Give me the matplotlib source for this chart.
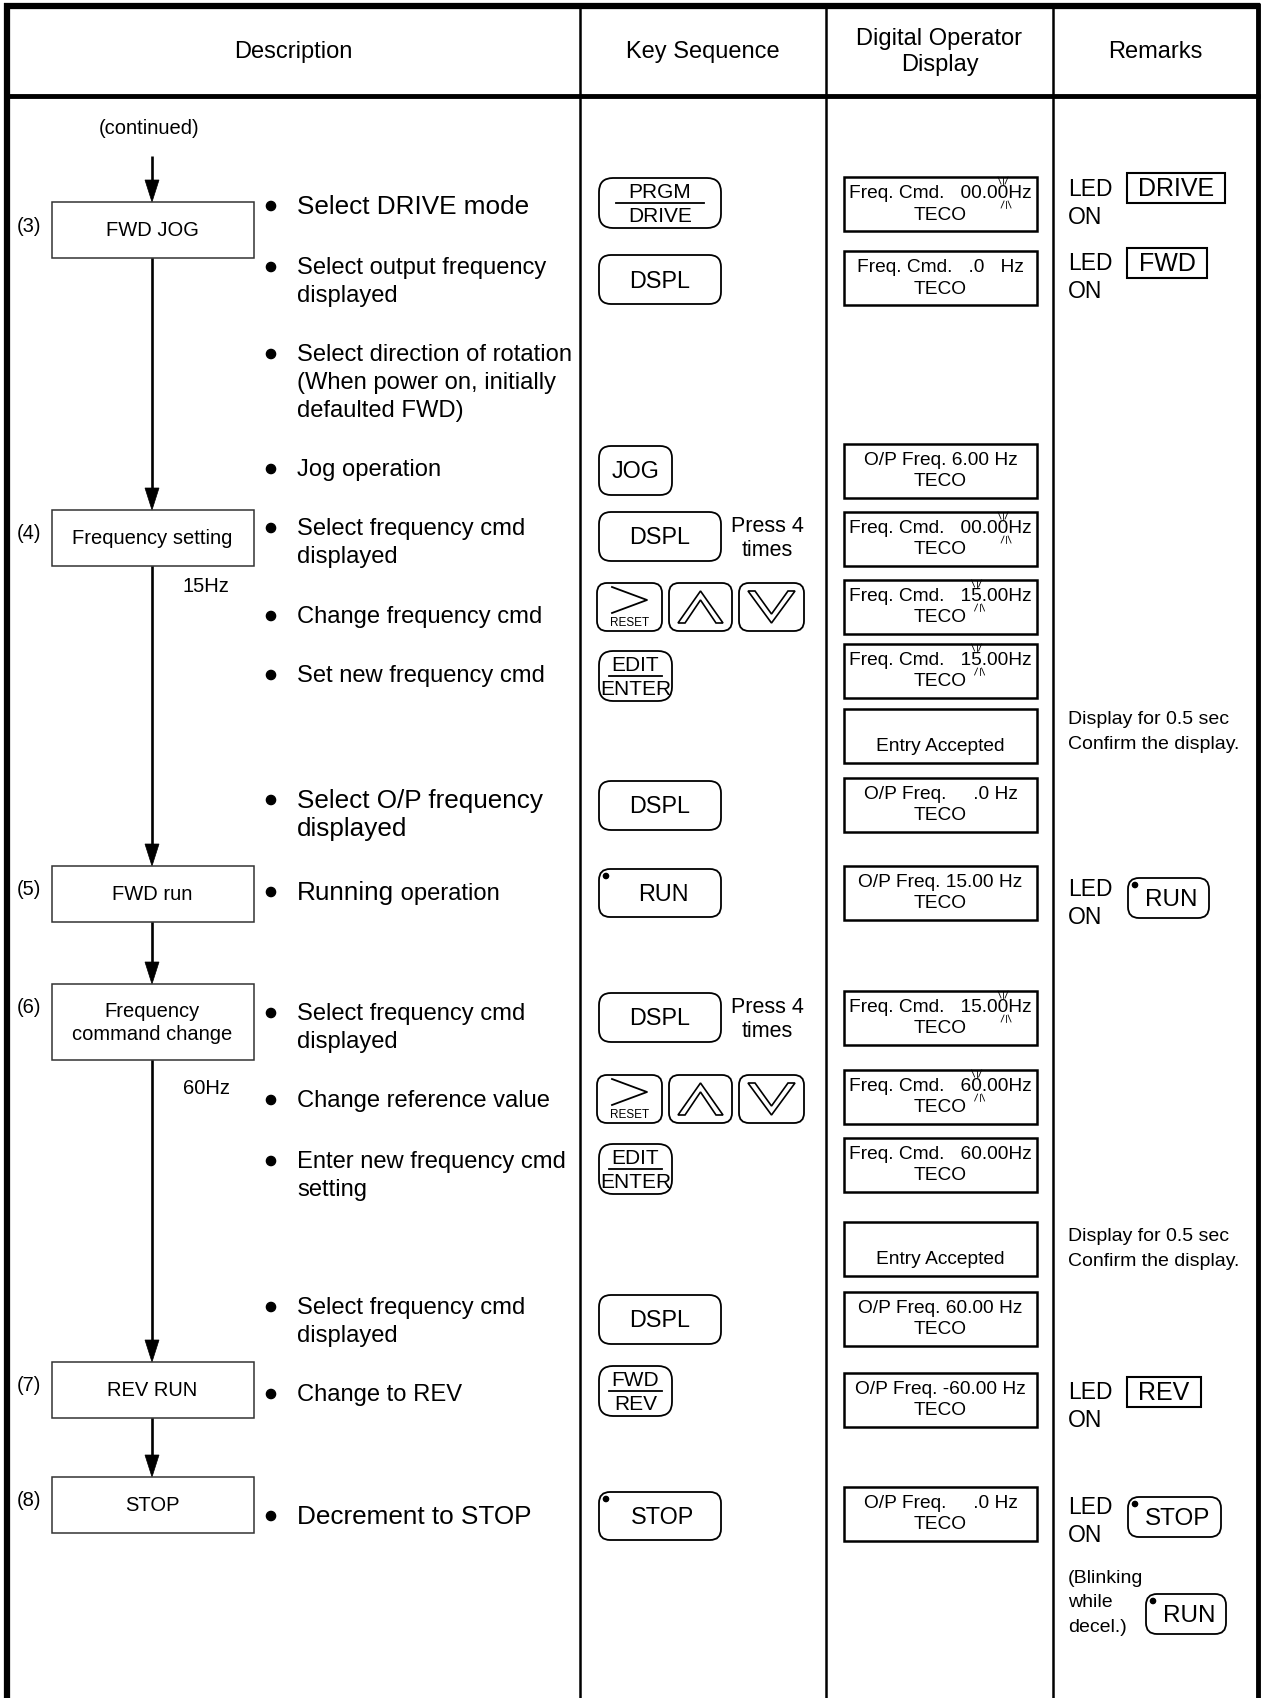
import matplotlib
matplotlib.use("Agg")
import matplotlib.pyplot as plt
from matplotlib.patches import FancyBboxPatch, Rectangle, Polygon, Circle

plt.rcParams['font.family'] = ['Liberation Sans', 'DejaVu Sans']

# ---- table header ----
headers = ['Description', 'Key Sequence', 'Digital Operator\nDisplay', 'Remarks']
col_edges = [7, 580, 826, 1053, 1258]

# ---- flow chart (description column) ----
step_nums = ['(3)', '(4)', '(5)', '(6)', '(7)', '(8)']
step_labels = ['FWD JOG', 'Frequency setting', 'FWD run',
               'Frequency\ncommand change', 'REV RUN', 'STOP']
step_top = [203, 511, 867, 985, 1363, 1478]
step_h = [56, 56, 56, 76, 56, 56]
freq_notes = ['15Hz', '60Hz']
freq_note_y = [587, 1089]

bullets = [
    ['Select DRIVE mode'],
    ['Select output frequency', 'displayed'],
    ['Select direction of rotation', '(When power on, initially', 'defaulted FWD)'],
    ['Jog operation'],
    ['Select frequency cmd', 'displayed'],
    ['Change frequency cmd'],
    ['Set new frequency cmd'],
    ['Select O/P frequency', 'displayed'],
    ['Running| operation'],
    ['Select frequency cmd', 'displayed'],
    ['Change reference value'],
    ['Enter new frequency cmd', 'setting'],
    ['Select frequency cmd', 'displayed'],
    ['Change to REV'],
    ['Decrement to STOP'],
]
bullet_y = [207, 268, 355, 470, 529, 617, 676, 801, 893, 1014, 1101, 1162, 1308, 1395, 1517]
bullet_big = [True, False, False, False, False, False, False, True, True,
              False, False, False, False, False, True]

# ---- key sequence column ----
keys = ['PRGM/DRIVE', 'DSPL', 'JOG', 'DSPL', 'ARROWS', 'EDIT/ENTER', 'DSPL',
        'RUN', 'DSPL', 'ARROWS', 'EDIT/ENTER', 'DSPL', 'FWD/REV', 'STOP']
key_top = [179, 256, 447, 513, 584, 652, 782, 870, 994, 1076, 1145, 1296, 1367, 1493]
press_note_key = [3, 8]

# ---- digital operator display column ----
disp_line1 = ['Freq. Cmd.   00.00Hz', 'Freq. Cmd.   .0   Hz', 'O/P Freq. 6.00 Hz',
              'Freq. Cmd.   00.00Hz', 'Freq. Cmd.   15.00Hz', 'Freq. Cmd.   15.00Hz',
              '', 'O/P Freq.     .0 Hz', 'O/P Freq. 15.00 Hz',
              'Freq. Cmd.   15.00Hz', 'Freq. Cmd.   60.00Hz', 'Freq. Cmd.   60.00Hz',
              '', 'O/P Freq. 60.00 Hz', 'O/P Freq. -60.00 Hz', 'O/P Freq.     .0 Hz']
disp_line2 = ['TECO', 'TECO', 'TECO', 'TECO', 'TECO', 'TECO', 'Entry Accepted', 'TECO',
              'TECO', 'TECO', 'TECO', 'TECO', 'Entry Accepted', 'TECO', 'TECO', 'TECO']
disp_blink = [17, None, None, 17, 14, 14, None, None, None, 17, 14, None, None, None, None, None]
disp_top = [178, 252, 445, 513, 581, 645, 710, 779, 867, 992, 1071, 1139, 1223, 1293, 1374, 1488]

# ---- remarks column ----
led_labels = ['DRIVE', 'FWD', 'RUN', 'REV', 'STOP']
led_kind = ['box', 'box', 'key', 'box', 'key']
led_text_y = [190, 263, 890, 1393, 1508]
led_box_top = [174, 249, 879, 1378, 1498]
led_box_w = [98, 80, 81, 74, 93]
confirm_y = [720, 1237]

W, H = 1265, 1699
fig = plt.figure(figsize=(W / 100, H / 100), dpi=100)
ax = fig.add_axes([0, 0, 1, 1])
ax.set_xlim(0, W)
ax.set_ylim(H, 0)
ax.axis('off')
renderer = fig.canvas.get_renderer()

FS_BODY = 17.1
FS_BIG = 18.8
FS_DISP = 13.8


def txt(x, y, s, size, ha='center', **kw):
    return ax.text(x, y, s, fontsize=size, ha=ha, va='center', **kw)


def rounded(x0, y0, w, h, r, lw=1.3):
    ax.add_patch(FancyBboxPatch((x0, y0), w, h, boxstyle=f"round,pad=0,rounding_size={r}",
                                lw=lw, ec='black', fc='white'))


def arrow(x, y0, y1):
    ax.plot([x, x], [y0, y1 - 20], color='black', lw=1.9, solid_capstyle='butt')
    ax.add_patch(Polygon([(x - 7, y1 - 22), (x + 7, y1 - 22), (x, y1)], closed=True,
                         fc='black', ec='black', lw=0.5))


def dot_key(x0, y0, w, h, label, size):
    rounded(x0, y0, w, h, 11)
    ax.add_patch(Circle((x0 + 7, y0 + 7), 2.6, color='black'))
    txt(x0 + w / 2 + 3, y0 + h / 2 + 1, label, size)


# table frame
ax.plot([col_edges[0], col_edges[0]], [4, H], color='black', lw=4.5, solid_capstyle='butt')
ax.plot([col_edges[-1], col_edges[-1]], [4, H], color='black', lw=3.5, solid_capstyle='butt')
ax.plot([4, 1260], [7, 7], color='black', lw=4.5, solid_capstyle='butt')
ax.plot([4, 1260], [97, 97], color='black', lw=3.5, solid_capstyle='butt')
for xe in col_edges[1:-1]:
    ax.plot([xe, xe], [7, H], color='black', lw=1.8)

header_y = [52, 52, 52, 52]
for i, hd in enumerate(headers):
    xc = (col_edges[i] + col_edges[i + 1]) / 2
    txt(xc, header_y[i], hd, 17, linespacing=1.25)

# flow chart
fx = 152
txt(fx - 3, 128, '(continued)', 14.5)
arrow(fx, 157, step_top[0])
for i in range(len(step_labels)):
    top, h = step_top[i], step_h[i]
    ax.add_patch(Rectangle((52, top), 202, h, fill=False, ec='#333333', lw=1.1))
    txt(fx, top + h / 2, step_labels[i], 14.5, linespacing=1.3)
    txt(29, top + 23, step_nums[i], 14.5)
    if i + 1 < len(step_labels):
        arrow(fx, top + h, step_top[i + 1])
for note, y in zip(freq_notes, freq_note_y):
    txt(206, y, note, 14.5)

for lines, y, big in zip(bullets, bullet_y, bullet_big):
    ax.add_patch(Circle((271, y), 4.6, color='black'))
    sz = FS_BIG if big else FS_BODY
    for j, ln in enumerate(lines):
        if '|' in ln:
            # first word larger, rest normal size
            first, rest = ln.split('|')
            t = txt(297, y, first, FS_BIG, ha='left')
            x_end = t.get_window_extent(renderer).x1
            txt(x_end, y + 1, rest, FS_BODY, ha='left')
        else:
            txt(297, y + j * 28, ln, sz, ha='left')

# key sequence
for i, k in enumerate(keys):
    top = key_top[i]
    if k == 'ARROWS':
        xs = [(597, 662), (669, 732), (739, 804)]
        for a, b in xs:
            rounded(a, top, b - a, 48, 10)
        a, b = xs[0]
        ax.plot([a + 15, a + 50, a + 15], [top + 4, top + 17, top + 30], color='black', lw=1.3)
        txt((a + b) / 2, top + 39, 'RESET', 8.5)
        a, b = xs[1]
        c = (a + b) / 2
        ax.add_patch(Polygon([(a + 9, top + 40), (c, top + 8), (b - 9, top + 40), (b - 16, top + 40),
                              (c, top + 17), (a + 16, top + 40)], closed=True, fill=False, lw=1.2))
        a, b = xs[2]
        c = (a + b) / 2
        ax.add_patch(Polygon([(a + 9, top + 8), (c, top + 40), (b - 9, top + 8), (b - 16, top + 8),
                              (c, top + 31), (a + 16, top + 8)], closed=True, fill=False, lw=1.2))
        continue
    if '/' in k:
        w = 122 if k == 'PRGM/DRIVE' else 73
        rounded(599, top, w, 50, 14)
        upper, lower = k.split('/')
        txt(599 + w / 2, top + 14, upper, 15)
        ax.plot([599 + 0.14 * w, 599 + 0.86 * w], [top + 24.5, top + 24.5], color='black', lw=1.3)
        txt(599 + w / 2, top + 38, lower, 15)
    elif k in ('RUN', 'STOP'):
        dot_key(599, top, 122, 48, k, 16.8)
    else:
        w = 73 if k == 'JOG' else 122
        rounded(599, top, w, 49, 12)
        txt(599 + w / 2, top + 25, k, 16.8)
for ki in press_note_key:
    txt(767, key_top[ki] + 14, 'Press 4', 15.5)
    txt(767, key_top[ki] + 38, 'times', 15.5)

# digital operator displays
dx0, dx1 = 844, 1037
dxc = (dx0 + dx1) / 2
for i in range(len(disp_top)):
    top = disp_top[i]
    ax.add_patch(Rectangle((dx0, top), dx1 - dx0, 54, fill=False, ec='black', lw=1.8))
    if disp_line1[i]:
        t = txt(dxc, top + 16, disp_line1[i], FS_DISP)
    txt(dxc, top + 37, disp_line2[i], FS_DISP)
    bi = disp_blink[i]
    if bi is not None:
        bb = t.get_window_extent(renderer)
        tp = ax.text(0, 0, disp_line1[i][:bi + 1], fontsize=FS_DISP)
        wp = tp.get_window_extent(renderer).width
        tp.remove()
        td = ax.text(0, 0, '0', fontsize=FS_DISP)
        wd = td.get_window_extent(renderer).width
        td.remove()
        xc = bb.x0 + wp - wd / 2
        yc = top + 16
        for ddx in (-5, 0, 5):
            ax.plot([xc + ddx, xc + ddx * 0.4], [yc - 16, yc - 9], color='black', lw=0.6)
            ax.plot([xc + ddx * 0.4 + 3, xc + ddx + 3], [yc + 8, yc + 15], color='black', lw=0.6)

# remarks
for i, lab in enumerate(led_labels):
    ty = led_text_y[i]
    txt(1068, ty, 'LED', 16.5, ha='left')
    txt(1068, ty + 28, 'ON', 16.5, ha='left')
    top = led_box_top[i]
    if led_kind[i] == 'box':
        ax.add_patch(Rectangle((1127, top), led_box_w[i], 30, fill=False, ec='black', lw=1.5))
        txt(1127 + led_box_w[i] / 2, top + 15, lab, 18)
    else:
        dot_key(1128, top, led_box_w[i], 40, lab, 17.5)
for y in confirm_y:
    txt(1068, y, 'Display for 0.5 sec', 14, ha='left')
    txt(1068, y + 25, 'Confirm the display.', 14, ha='left')
txt(1068, 1579, '(Blinking', 14, ha='left')
txt(1068, 1603, 'while', 14, ha='left')
txt(1068, 1628, 'decel.)', 14, ha='left')
dot_key(1146, 1595, 80, 40, 'RUN', 17.5)

fig.savefig('out.png', dpi=100)
